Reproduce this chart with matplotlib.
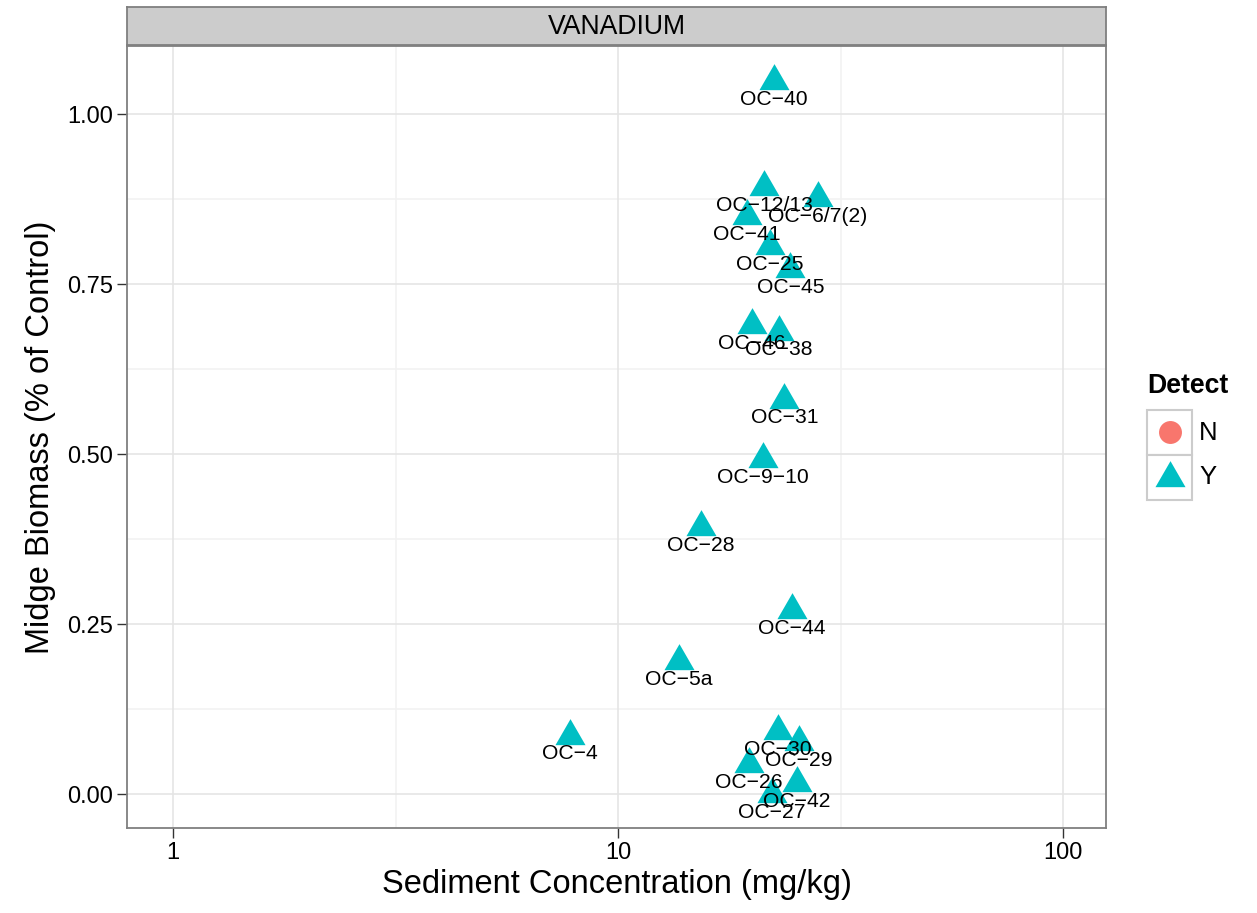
import matplotlib
matplotlib.use("Agg")
import matplotlib.pyplot as plt
import numpy as np
from matplotlib.patches import Rectangle
from matplotlib.lines import Line2D

plt.rcParams['font.family'] = ['Liberation Sans', 'DejaVu Sans']

# ---- data ----
sites = ["OC-40", "OC-12/13", "OC-6/7(2)", "OC-41", "OC-25", "OC-45", "OC-46", "OC-38",
         "OC-31", "OC-9-10", "OC-28", "OC-44", "OC-5a", "OC-4", "OC-30", "OC-29",
         "OC-26", "OC-42", "OC-27"]
conc = [22.4, 21.3, 28.1, 19.5, 21.96, 24.4, 19.97, 22.97,
        23.64, 21.2, 15.37, 24.56, 13.69, 7.78, 22.85, 25.54,
        19.66, 25.2, 22.15]
biomass = [1.048, 0.893, 0.876, 0.850, 0.806, 0.772, 0.689, 0.680,
           0.580, 0.492, 0.393, 0.270, 0.196, 0.086, 0.093, 0.077,
           0.044, 0.016, 0.000]
detect = ["Y"] * len(sites)
detect_levels = ["N", "Y"]
detect_colors = {"N": "#F8766D", "Y": "#00BFC4"}
detect_markers = {"N": "o", "Y": "tri"}
facet_title = "VANADIUM"
x_ticks = [1, 10, 100]
x_ticklabels = ["1", "10", "100"]
y_ticks = [0.00, 0.25, 0.50, 0.75, 1.00]
y_ticklabels = ["0.00", "0.25", "0.50", "0.75", "1.00"]

# equilateral triangle marker (centroid at origin)
tri = [(0, 1.1547), (-1, -0.57735), (1, -0.57735), (0, 1.1547)]

W, H = 1257, 913
fig = plt.figure(figsize=(W / 100, H / 100), dpi=100)

def fx(px):
    return px / W

def fy(py):
    return 1 - py / H

L, R, T, B = 127, 1106, 46, 828
ax = fig.add_axes([fx(L), fy(B), fx(R) - fx(L), fy(T) - fy(B)])
ax.set_xscale('log')
ax.set_xlim(0.788, 124.9)
ax.set_ylim(-0.05, 1.1)
ax.set_facecolor('white')

# grid
for v in [10 ** 0.5, 10 ** 1.5]:
    ax.axvline(v, color='#F2F2F2', lw=1.2, zorder=0)
for v in [0.125, 0.375, 0.625, 0.875]:
    ax.axhline(v, color='#F2F2F2', lw=1.2, zorder=0)
for v in x_ticks:
    ax.axvline(v, color='#E5E5E5', lw=1.2, zorder=0)
for v in y_ticks:
    ax.axhline(v, color='#E5E5E5', lw=1.2, zorder=0)

ax.set_xticks(x_ticks)
ax.set_xticklabels(x_ticklabels)
ax.xaxis.set_minor_locator(matplotlib.ticker.NullLocator())
ax.set_yticks(y_ticks)
ax.set_yticklabels(y_ticklabels)
ax.tick_params(axis='both', which='major', length=7, width=1, color='#333333',
               labelsize=17, labelcolor='black', pad=3)
for s in ax.spines.values():
    s.set_color('#7F7F7F')
    s.set_linewidth(1.3)

for i in range(len(sites)):
    c = detect_colors[detect[i]]
    m = tri if detect[i] == "Y" else 'o'
    ax.plot(conc[i], biomass[i], marker=m, markersize=25, color=c,
            markeredgewidth=0, linestyle='none', zorder=3)
for i in range(len(sites)):
    ax.annotate(sites[i].replace('-', '\u2212'), (conc[i], biomass[i]),
                xytext=(0, -17.2), textcoords='offset points',
                ha='center', va='baseline', fontsize=15.2, color='black', zorder=4)

ax.set_xlabel("Sediment Concentration (mg/kg)", fontsize=23.5, labelpad=4)
ax.set_ylabel("Midge Biomass (% of Control)", fontsize=23.5, labelpad=8)

# strip
sax = fig.add_axes([fx(L), fy(45), fx(R) - fx(L), fy(7) - fy(45)])
sax.set_facecolor('#CCCCCC')
sax.set_xticks([])
sax.set_yticks([])
for s in sax.spines.values():
    s.set_color('#7F7F7F')
    s.set_linewidth(1.3)
sax.text(0.5, 0.47, facet_title, ha='center', va='center', fontsize=19.2,
         transform=sax.transAxes)

# legend overlay (pixel coordinates)
oax = fig.add_axes([0, 0, 1, 1])
oax.set_xlim(0, W)
oax.set_ylim(H, 0)
oax.axis('off')
oax.text(1147, 386, "Detect", fontsize=19.2, fontweight='bold', ha='left', va='center')
key_top = 410
key_h = 45
for j, lev in enumerate(detect_levels):
    y0 = key_top + j * key_h
    oax.add_patch(Rectangle((1147, y0), 45, key_h, facecolor='white',
                            edgecolor='#CCCCCC', lw=1.5))
    m = tri if detect_markers[lev] == "tri" else 'o'
    ms = 25 if m is tri else 16.5
    oax.plot(1169.5, y0 + key_h / 2 + (1 if m is tri else 0), marker=m, markersize=ms,
             color=detect_colors[lev], markeredgewidth=0, linestyle='none')
    oax.text(1199, y0 + key_h / 2, lev, fontsize=18.5, ha='left', va='center')

fig.savefig("out.png", dpi=100)
